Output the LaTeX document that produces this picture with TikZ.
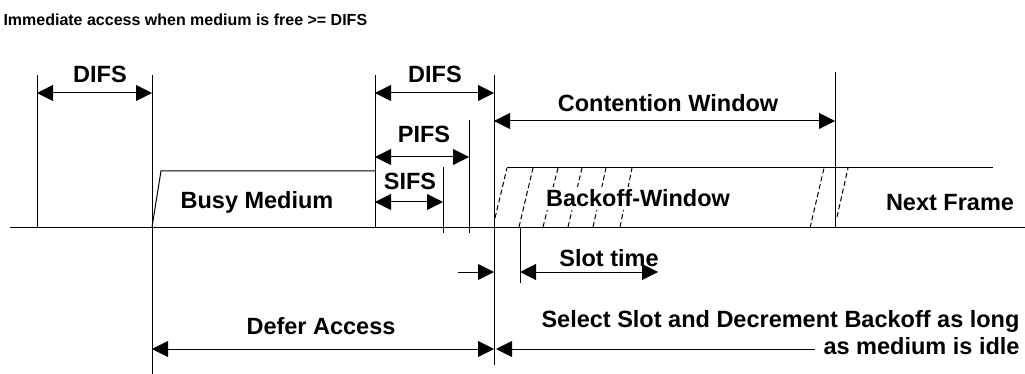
\documentclass[tikz,border=0pt]{standalone}
\usepackage{fontspec}
\setmainfont{Liberation Sans}
\usetikzlibrary{arrows.meta,positioning}

\begin{document}
\begin{tikzpicture}[x=1pt, y=-1pt, line width=1pt,
    lbl/.style={font=\fontsize{23.5}{27}\selectfont\bfseries, inner sep=0pt, anchor=base},
    dim/.style={{Triangle[length=16pt,width=16pt]}-{Triangle[length=16pt,width=16pt]}},
    tip/.style={-{Triangle[length=16pt,width=16pt]}},
    slant/.style={dash pattern=on 5pt off 3pt}]
\useasboundingbox (0,0) rectangle (1025,374);
% title
\node[lbl, font=\fontsize{16}{18}\selectfont\bfseries, anchor=base west] (title) at (3,26)
  {Immediate access when medium is free >= DIFS};
% medium line
\coordinate (m0) at (10,227);
\coordinate (m1) at (1025,227);
\draw (m0) -- (m1);
% time marks
\foreach \x/\a/\b in {37/75/227, 152/75/374, 375/75/227, 494/75/365,
                      469/120/233, 443/167/233, 835/72/228, 520/227/283}
  \draw (\x,\a) -- (\x,\b);
% busy medium and backoff window outlines
\draw (152,227) -- (161,171) -- (375,171);
\draw (507,168) -- (993,168);
\foreach \a/\b/\c/\d in {495/218/507/168, 519/227/533/168, 543/227/558/168,
                         568/227/582/168, 593/227/606/168, 620/227/632/168,
                         810/228/824/168, 837/217/848/168}
  \draw[slant] (\a,\b) -- (\c,\d);
% labels inside the medium
\node[lbl] (busy) at (257,208) {Busy Medium};
\node[lbl, fill=white, inner sep=3pt] (backoff) at (638,207) {Backoff-Window};
\node[lbl] (next) at (950,211) {Next Frame};
% interframe spaces
\coordinate (difsA) at (37,93);   \coordinate (difsB) at (152,93);
\coordinate (difsC) at (375,93);  \coordinate (difsD) at (494,93);
\coordinate (pifsA) at (375,157); \coordinate (pifsB) at (469,157);
\coordinate (sifsA) at (375,202); \coordinate (sifsB) at (443,202);
\draw[dim] (difsA) -- (difsB);
\draw[dim] (difsC) -- (difsD);
\draw[dim] (pifsA) -- (pifsB);
\draw[dim] (sifsA) -- (sifsB);
\node[lbl] (difs1) at (100,83) {DIFS};
\node[lbl] (difs2) at (435,83) {DIFS};
\node[lbl] (pifs) at (424,143) {PIFS};
\node[lbl] (sifs) at (410,190) {SIFS};
% contention window
\coordinate (cwA) at (494,121); \coordinate (cwB) at (835,121);
\draw[dim] (cwA) -- (cwB);
\node[lbl] (cw) at (668,112) {Contention Window};
% slot time
\coordinate (slA) at (458,272); \coordinate (slB) at (494,272);
\coordinate (slC) at (520,272); \coordinate (slD) at (658,272);
\draw[tip] (slA) -- (slB);
\draw[dim] (slC) -- (slD);
\node[lbl] (slot) at (609,266) {Slot time};
% defer and backoff countdown
\coordinate (dfA) at (152,349); \coordinate (dfB) at (494,349);
\coordinate (bkA) at (815,349); \coordinate (bkB) at (496,349);
\draw[dim] (dfA) -- (dfB);
\draw[tip] (bkA) -- (bkB);
\node[lbl] (defer) at (321,334) {Defer Access};
\node[lbl, anchor=base east] (sel1) at (1020,327) {Select Slot and Decrement Backoff as long};
\node[lbl, anchor=base east] (sel2) at (1020,354) {as medium is idle};
\end{tikzpicture}
\end{document}
